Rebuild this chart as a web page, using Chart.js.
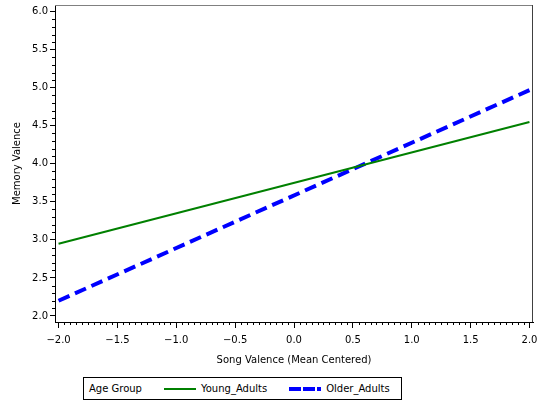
<!DOCTYPE html>
<html>
<head>
<meta charset="utf-8">
<script src="https://cdn.jsdelivr.net/npm/chart.js@4.4.0/dist/chart.umd.min.js"></script>
<style>
  body { margin: 0; background: #fff; }
  #wrap { position: relative; width: 541px; height: 405px; }
  #box { position: absolute; left: 0; top: 0; width: 541px; height: 372px; }
  #legend {
    position: absolute; left: 83px; top: 377px; width: 319px; height: 23px;
    border: 1px solid #000; box-sizing: border-box;
    font: 10px "DejaVu Sans", sans-serif; color: #000;
    display: flex; align-items: center;
  }
  #legend span { white-space: nowrap; }
  #legend svg { display: block; }
</style>
</head>
<body>
<div id="wrap">
  <div id="box"><canvas id="myChart"></canvas></div>
  <div id="legend">
    <span style="margin-left:5px">Age Group</span>
    <svg width="32" height="6" style="margin-left:22px"><line x1="0" y1="3" x2="32" y2="3" stroke="#008000" stroke-width="2"/></svg>
    <span style="margin-left:5px">Young_Adults</span>
    <svg width="32" height="6" style="margin-left:22px"><line x1="0" y1="3" x2="32" y2="3" stroke="#0000ff" stroke-width="4" stroke-dasharray="12,2"/></svg>
    <span style="margin-left:5px">Older_Adults</span>
  </div>
</div>
<script>
// song valence (mean centered) at the two ends of the fitted lines
var songValence = [-2, 2];
var youngAdults = [2.95, 4.55];
var olderAdults = [2.2, 4.97];

var xTicks = [-2, -1.5, -1, -0.5, 0, 0.5, 1, 1.5, 2];
var yTicks = [2, 2.5, 3, 3.5, 4, 4.5, 5, 5.5, 6];

function points(ys) {
    return songValence.map(function (x, i) { return {x: x, y: ys[i]}; });
}

function fmt(v) {
    var s = Math.abs(v).toFixed(1);
    return v < 0 ? '\u2212' + s : s;
}

// frame + minor ticks
var framePlugin = {
    id: 'frame',
    afterDraw: function (chart) {
        var ctx = chart.ctx, a = chart.chartArea;
        var xs = chart.scales.x, ys = chart.scales.y;
        ctx.save();
        ctx.lineWidth = 1;
        ctx.strokeStyle = '#808080';
        ctx.beginPath();
        ctx.moveTo(a.left, a.top + 0.5);
        ctx.lineTo(a.right, a.top + 0.5);
        ctx.stroke();
        ctx.strokeStyle = '#404040';
        ctx.beginPath();
        ctx.moveTo(a.right - 0.5, a.top);
        ctx.lineTo(a.right - 0.5, a.bottom);
        ctx.stroke();
        ctx.strokeStyle = '#000';
        ctx.beginPath();
        for (var i = 0; i <= 80; i++) {
            if (i % 10 === 0) continue;
            var px = Math.round(xs.getPixelForValue(-2 + i * 0.05)) + 0.5;
            ctx.moveTo(px, a.bottom);
            ctx.lineTo(px, a.bottom + 3);
        }
        for (var j = 0; j <= 40; j++) {
            if (j % 5 === 0) continue;
            var py = Math.round(ys.getPixelForValue(2 + j * 0.1)) + 0.5;
            ctx.moveTo(a.left, py);
            ctx.lineTo(a.left - 3, py);
        }
        ctx.stroke();
        ctx.restore();
    }
};

var tickFont = {family: 'DejaVu Sans', size: 10};

var ctx = document.getElementById('myChart').getContext('2d');
var myChart = new Chart(ctx, {
    type: 'line',
    data: {
        datasets: [
            {
                label: 'Young_Adults',
                data: points(youngAdults),
                borderColor: '#008000',
                borderWidth: 2,
                pointRadius: 0,
                fill: false
            },
            {
                label: 'Older_Adults',
                data: points(olderAdults),
                borderColor: '#0000ff',
                borderWidth: 4,
                borderDash: [12, 6],
                pointRadius: 0,
                fill: false
            }
        ]
    },
    options: {
        responsive: true,
        maintainAspectRatio: false,
        animation: false,
        layout: {padding: {top: 5, right: 8, left: 0, bottom: 0}},
        plugins: {legend: {display: false}, tooltip: {enabled: false}},
        scales: {
            x: {
                type: 'linear',
                min: -2.03,
                max: 2.03,
                afterBuildTicks: function (s) { s.ticks = xTicks.map(function (v) { return {value: v}; }); },
                afterFit: function (s) { s.height = 50; s.paddingLeft = 0; s.paddingRight = 0; },
                ticks: {color: '#000', font: tickFont, padding: 6, maxRotation: 0, autoSkip: false,
                    callback: function (v) { return fmt(v); }},
                grid: {drawOnChartArea: false, tickLength: 6, color: '#000'},
                border: {color: '#000'},
                title: {display: true, text: 'Song Valence (Mean Centered)', color: '#000',
                    font: tickFont, padding: {bottom: 6}}
            },
            y: {
                min: 1.92,
                max: 6.09,
                afterBuildTicks: function (s) { s.ticks = yTicks.map(function (v) { return {value: v}; }); },
                afterFit: function (s) { s.width = 55; s.paddingTop = 0; s.paddingBottom = 0; },
                ticks: {color: '#000', font: tickFont, padding: 2, autoSkip: false,
                    callback: function (v) { return fmt(v); }},
                grid: {drawOnChartArea: false, tickLength: 5, color: '#000'},
                border: {color: '#000'},
                title: {display: true, text: 'Memory Valence', color: '#000',
                    font: tickFont, padding: {top: 11}}
            }
        }
    },
    plugins: [framePlugin]
});
</script>
</body>
</html>
